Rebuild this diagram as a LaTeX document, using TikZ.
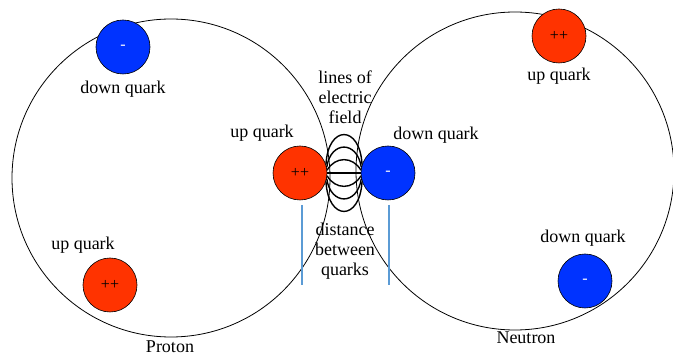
\documentclass[tikz,border=0pt]{standalone}
\usepackage{fontspec}
\setmainfont{Liberation Serif}
\usetikzlibrary{positioning}
\definecolor{quarkRed}{HTML}{FF3300}
\definecolor{quarkBlue}{HTML}{0033FF}
\definecolor{gapBlue}{HTML}{5B9BD5}

\begin{document}
\begin{tikzpicture}[x=1pt,y=-1pt,font=\rmfamily\fontsize{18}{20}\selectfont,
    hadron/.style={circle,draw,line width=0.8pt,minimum size=318pt,inner sep=0pt},
    quarkup/.style={circle,draw,line width=0.6pt,fill=quarkRed,minimum size=54pt,
                    inner sep=0pt,font=\rmfamily\fontsize{16}{16}\selectfont},
    quarkdown/.style={quarkup,fill=quarkBlue,text=white},
    tag/.style={align=center,inner sep=1pt},
    fieldline/.style={line width=1.4pt},
    gapline/.style={gapBlue,line width=1.6pt}]
    \useasboundingbox (0,0) rectangle (673,363);
    % nucleons
    \node[hadron] (proton) at (171,178) {};
    \node[hadron] (neutron) at (515,171) {};
    \node[tag] (protonLbl) at (170,347) {Proton};
    \node[tag] (neutronLbl) at (526,338) {Neutron};
    % quarks in the proton
    \node[quarkdown] (pDown) at (123,47) {-};
    \node[tag,below=6pt of pDown] (pDownLbl) {down quark};
    \node[quarkup] (pUp) at (110,285) {++};
    \node[tag] (pUpLbl) at (83,245) {up quark};
    \node[quarkup] (upC) at (300,173) {++};
    \node[tag] (upCLbl) at (262,133) {up quark};
    % quarks in the neutron
    \node[quarkup] (nUp) at (559,36) {++};
    \node[tag,below=4pt of nUp] (nUpLbl) {up quark};
    \node[quarkdown] (nDown) at (585,281) {-};
    \node[tag] (nDownLbl) at (583,238) {down quark};
    \node[quarkdown] (downC) at (388,173) {-};
    \node[tag] (downCLbl) at (436,135) {down quark};
    % field between the two middle quarks
    \draw[fieldline] (upC.east) -- (downC.west);
    \foreach \a/\h/\d in {18/40/2,12/27/4,6/14/8} {
      \draw[fieldline] (upC.\a) .. controls +(\d,-\h) and +(-\d,-\h) .. (downC.180-\a);
      \draw[fieldline] (upC.-\a) .. controls +(\d,\h) and +(-\d,\h) .. (downC.180+\a);
    }
    \node[tag] (fieldLbl) at (345,97) {lines of\\electric\\field};
    % distance markers
    \coordinate (gapA1) at (302,205);
    \coordinate (gapA2) at (302,285);
    \coordinate (gapB1) at (389,205);
    \coordinate (gapB2) at (389,285);
    \draw[gapline] (gapA1) -- (gapA2);
    \draw[gapline] (gapB1) -- (gapB2);
    \node[tag] (gapLbl) at (345,251) {distance\\between\\quarks};
\end{tikzpicture}
\end{document}
